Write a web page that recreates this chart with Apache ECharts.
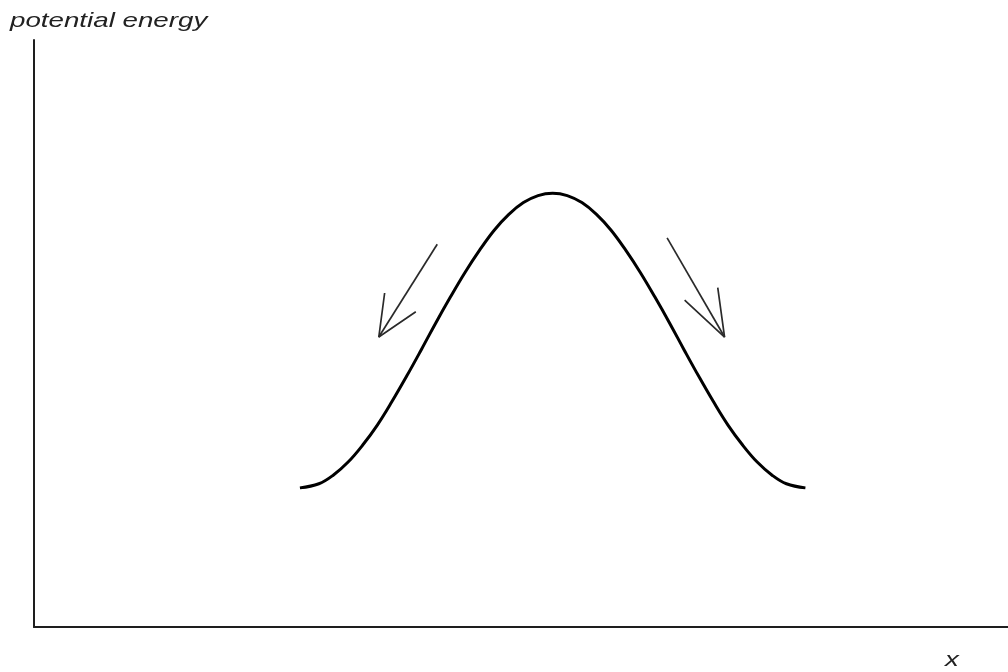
<!DOCTYPE html>
<html>
<head>
<meta charset="utf-8">
<script src="https://cdn.jsdelivr.net/npm/echarts@6/dist/echarts.min.js"></script>
<style>html,body{margin:0;padding:0;background:#fff;}#c{width:1008px;height:672px;}</style>
</head>
<body>
<div id="c"></div>
<script>
// Axis titles
const yAxisTitle = 'potential energy';
const xAxisTitle = 'x';

// Energy curve (x, potential energy)
const curveX = [27.3, 29.25, 30.75, 32.25, 33.75, 35.25, 36.75, 38.25, 39.75, 41.25, 42.75, 44.25, 45.75, 47.25, 48.75, 50.25, 51.75,
                53.25,
                54.75, 56.25, 57.75, 59.25, 60.75, 62.25, 63.75, 65.25, 66.75, 68.25, 69.75, 71.25, 72.75, 74.25, 75.75, 77.25, 79.2];
const curveY = [23.7, 24.4, 25.9, 28.1, 31.0, 34.4, 38.4, 42.7, 47.2, 51.8, 56.2, 60.4, 64.2, 67.6, 70.3, 72.3, 73.5,
                73.9,
                73.5, 72.3, 70.3, 67.6, 64.2, 60.4, 56.2, 51.8, 47.2, 42.7, 38.4, 34.4, 31.0, 28.1, 25.9, 24.4, 23.7];

// Arrows: shaft (tail -> head) and open arrowhead (barb -> head -> barb)
const leftArrowShaft = [[41.4, 65.2], [35.4, 49.4]];
const leftArrowHead = [[36.0, 56.9], [35.4, 49.4], [39.2, 53.7]];
const rightArrowShaft = [[65.0, 66.3], [70.9, 49.4]];
const rightArrowHead = [[70.2, 57.8], [70.9, 49.4], [66.8, 55.7]];

const curveData = curveX.map((x, i) => [x, curveY[i]]);
const arrowStyle = { color: '#2a2a2a', width: 1.7 };
function arrowSeries(data) {
  return { type: 'line', data: data, symbol: 'none', silent: true, lineStyle: arrowStyle, z: 3 };
}
const labelFont = 'italic 21px "Liberation Sans", Arial, sans-serif';

const chart = echarts.init(document.getElementById('c'), null, { renderer: 'canvas' });
chart.setOption({
  animation: false,
  backgroundColor: '#fff',
  grid: { left: 34, right: 0, top: 40, bottom: 45, containLabel: false },
  xAxis: {
    type: 'value', min: 0, max: 100,
    axisLine: { show: true, lineStyle: { color: '#1e1e1e', width: 2 } },
    axisTick: { show: false }, axisLabel: { show: false }, splitLine: { show: false }
  },
  yAxis: {
    type: 'value', min: 0, max: 100,
    axisLine: { show: true, lineStyle: { color: '#1e1e1e', width: 2 } },
    axisTick: { show: false }, axisLabel: { show: false }, splitLine: { show: false }
  },
  graphic: [
    { type: 'text', x: 10, y: 21, scaleX: 1.32, silent: true,
      style: { text: yAxisTitle, font: labelFont, fill: '#222', align: 'left', verticalAlign: 'middle' } },
    { type: 'text', x: 952, y: 660, scaleX: 1.32, silent: true,
      style: { text: xAxisTitle, font: labelFont, fill: '#222', align: 'center', verticalAlign: 'middle' } }
  ],
  series: [
    { type: 'line', data: curveData, smooth: 0.4, symbol: 'none', silent: true,
      lineStyle: { color: '#000', width: 3 }, z: 4 },
    arrowSeries(leftArrowShaft),
    arrowSeries(leftArrowHead),
    arrowSeries(rightArrowShaft),
    arrowSeries(rightArrowHead)
  ]
});
</script>
</body>
</html>
